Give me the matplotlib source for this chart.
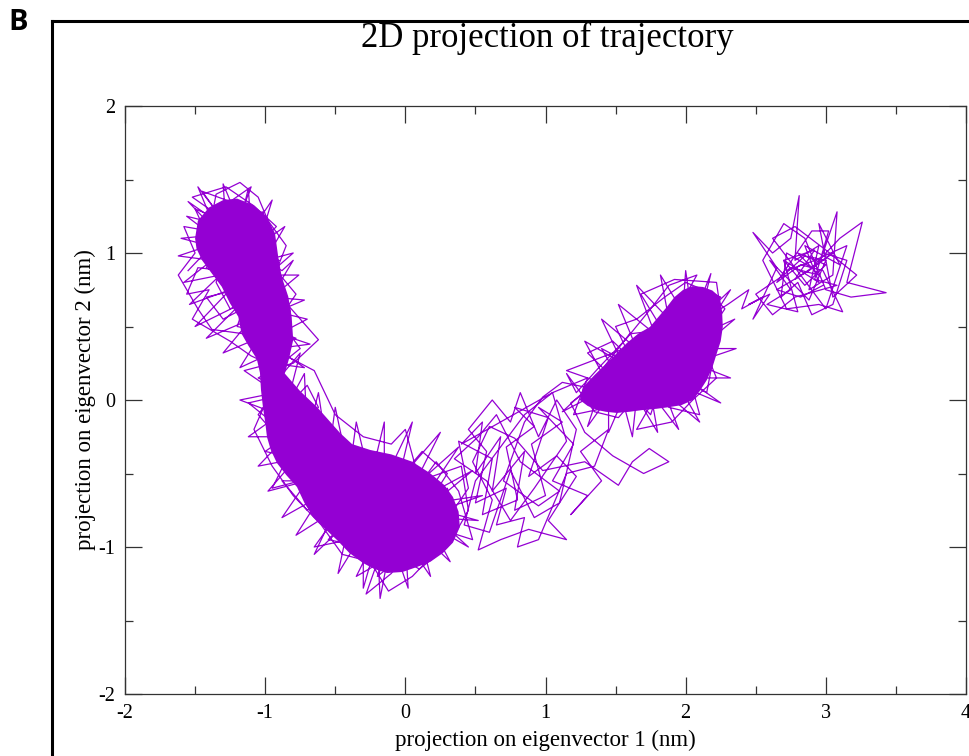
import numpy as np
import matplotlib
matplotlib.use("Agg")
import matplotlib.pyplot as plt
from matplotlib.lines import Line2D
from matplotlib.ticker import MultipleLocator

plt.rcParams["axes.unicode_minus"] = False

# trajectory projected on the first two eigenvectors (nm), split by region
traj_a = [(-1.55, 0.88), (-1.38, 1.05), (-1.50, 1.30), (-1.30, 1.22), (-1.45, 1.42), (-1.25, 1.35), (-1.10, 1.45), (-1.20, 1.20),
          (-1.02, 1.28), (-0.95, 1.10), (-1.15, 1.05), (-0.90, 0.95), (-1.05, 0.85), (-1.35, 0.95), (-1.20, 0.75), (-1.42, 0.70),
          (-1.30, 0.55), (-1.10, 0.65), (-0.88, 0.80), (-0.82, 0.60), (-1.00, 0.50), (-0.78, 0.42), (-0.95, 0.35), (-1.15, 0.45),
          (-1.38, 0.48), (-1.48, 0.62), (-1.62, 0.85), (-1.50, 1.00), (-1.58, 1.18), (-1.40, 1.15), (-1.35, 1.40), (-1.18, 1.48),
          (-1.05, 1.38), (-0.98, 1.22), (-0.85, 1.05), (-0.92, 0.88), (-0.78, 0.72), (-0.90, 0.55), (-1.05, 0.70), (-1.25, 0.62),
          (-1.35, 0.80), (-1.28, 1.00), (-1.45, 1.12), (-1.32, 1.28), (-1.15, 1.12), (-1.00, 0.98), (-1.12, 0.85), (-0.98, 0.72),
          (-1.18, 0.58), (-1.05, 0.40), (-0.85, 0.48), (-0.75, 0.35), (-0.92, 0.22), (-1.10, 0.30), (-1.25, 0.40), (-1.52, 0.55),
          (-1.40, 0.75), (-1.56, 0.72), (-1.48, 0.90), (-1.30, 0.88), (-1.22, 1.30), (-1.40, 1.30), (-1.52, 1.38), (-1.28, 1.45),
          (-1.08, 1.32), (-0.92, 1.18), (-1.10, 1.00), (-0.88, 0.88), (-0.80, 0.95), (-1.02, 0.60), (-0.82, 0.52), (-0.96, 0.45),
          (-1.20, 0.50), (-1.12, 0.72), (-1.25, 0.82), (-1.42, 0.90), (-1.30, 1.10), (-1.18, 0.95), (-1.05, 1.15), (-0.95, 0.95),
          (-1.55, 1.35), (-1.35, 1.15), (-1.48, 1.45), (-1.28, 1.20), (-1.30, 1.47), (-1.18, 1.20), (-1.12, 1.44), (-1.10, 1.15),
          (-0.95, 1.36), (-1.05, 1.05), (-0.86, 1.18), (-1.00, 0.95), (-0.80, 1.00), (-0.98, 0.85), (-0.76, 0.85), (-0.95, 0.70),
          (-0.72, 0.68), (-0.92, 0.60), (-0.70, 0.55), (-0.90, 0.45), (-0.68, 0.38), (-0.92, 0.35), (-0.72, 0.22), (-0.95, 0.25),
          (-0.85, 0.10), (-1.00, 0.30), (-1.18, 0.22), (-1.05, 0.42), (-1.30, 0.32), (-1.10, 0.55), (-1.42, 0.42), (-1.18, 0.65),
          (-1.50, 0.50), (-1.25, 0.75), (-1.54, 0.65), (-1.32, 0.85), (-1.58, 0.80), (-1.38, 0.95), (-1.62, 0.98), (-1.40, 1.05),
          (-1.60, 1.10), (-1.38, 1.12), (-1.56, 1.25), (-1.35, 1.20), (-0.62, 0.41), (-0.80, 0.25)]

traj_b = [(-0.92, 0.22), (-1.05, 0.15), (-0.80, 0.05), (-1.12, -0.02), (-0.95, -0.15), (-0.70, 0.10), (-0.62, -0.05), (-0.85, -0.25),
          (-1.00, -0.35), (-0.75, -0.40), (-0.55, -0.20), (-0.45, -0.35), (-0.68, -0.55), (-0.88, -0.55), (-0.70, -0.75), (-0.50, -0.60),
          (-0.35, -0.50), (-0.20, -0.35), (-0.40, -0.80), (-0.55, -0.95), (-0.30, -1.00), (-0.15, -0.75), (0.05, -0.45), (-0.05, -0.90),
          (-0.20, -1.20), (0.00, -1.05), (0.15, -0.80), (0.30, -0.60), (0.35, -0.85), (0.20, -1.05), (0.05, -1.20), (-0.12, -1.30),
          (-0.25, -1.10), (-0.45, -1.05), (-0.60, -0.85), (-0.80, -0.65), (-0.95, -0.45), (-1.08, -0.20), (-0.85, 0.30), (-0.65, 0.20),
          (-0.50, -0.10), (-0.30, -0.25), (-0.10, -0.30), (0.00, -0.20), (0.10, -0.55), (0.40, -0.45), (0.45, -0.75), (0.30, -1.00),
          (0.10, -1.15), (-0.08, -1.05), (-0.35, -1.20), (-0.22, -0.95), (-0.48, -0.72), (-0.62, -0.35), (-0.78, -0.15), (-0.98, 0.05),
          (-0.88, -0.40), (-0.72, -0.25), (-0.58, -0.45), (-0.38, -0.62), (-0.15, -0.55), (0.02, -0.68), (0.22, -0.42), (0.38, -0.62),
          (0.48, -0.95), (0.25, -0.88), (0.08, -0.95), (-0.10, -1.18), (-0.28, -1.32), (-0.18, -1.05), (-0.40, -0.95), (-0.65, -1.00),
          (-0.50, -0.80), (-0.75, -0.55), (-0.95, -0.60), (-0.82, -0.35), (-1.05, -0.10), (-0.90, 0.10), (-0.68, -0.08), (-0.52, -0.30),
          (-0.25, -0.42), (-0.05, -0.52), (0.18, -0.68), (0.30, -0.50), (0.12, -0.35), (-0.12, -0.62), (-0.32, -0.78), (-0.20, -0.88),
          (-1.10, 0.38), (-0.95, 0.25), (-1.15, 0.20), (-0.92, 0.05), (-1.18, 0.00), (-0.90, -0.10), (-1.12, -0.25), (-0.85, -0.25),
          (-1.05, -0.45), (-0.78, -0.40), (-0.98, -0.62), (-0.70, -0.55), (-0.88, -0.80), (-0.60, -0.65), (-0.78, -0.92), (-0.50, -0.75),
          (-0.65, -1.05), (-0.40, -0.82), (-0.48, -1.18), (-0.30, -0.90), (-0.30, -1.28), (-0.20, -0.95), (-0.18, -1.35), (-0.10, -0.95),
          (0.02, -1.28), (0.00, -0.95), (0.18, -1.20), (0.10, -0.90), (0.32, -1.10), (0.18, -0.85), (0.45, -1.00), (0.22, -0.80),
          (0.52, -0.82), (0.25, -0.75), (0.55, -0.65), (0.20, -0.70), (0.48, -0.48), (0.15, -0.65), (0.38, -0.32), (0.05, -0.60),
          (0.25, -0.22), (-0.05, -0.55), (0.05, -0.15), (-0.15, -0.55), (-0.15, -0.15), (-0.25, -0.55), (-0.35, -0.15), (-0.40, -0.50),
          (-0.50, -0.05), (-0.55, -0.40), (-0.62, 0.05), (-0.70, -0.25), (-0.72, 0.18), (-0.85, -0.05), (-0.75, 0.32), (-0.90, 0.15),
          (-0.60, -0.20), (-0.40, -0.45), (-0.10, -0.45), (0.20, -0.55), (0.20, -0.95)]

traj_c = [(0.20, -0.95), (0.45, -0.60), (0.38, -0.28), (0.62, -0.40), (0.55, -0.78), (0.80, -0.68), (0.72, -0.32), (0.92, -0.18),
          (0.78, -0.05), (1.02, -0.12), (0.88, -0.52), (1.08, -0.38), (1.22, -0.52), (1.02, -0.82), (1.15, -0.95), (0.88, -0.88),
          (0.68, -0.95), (0.52, -1.02), (0.62, -0.68), (0.48, -0.42), (0.60, -0.18), (0.78, -0.26), (0.98, -0.48), (1.28, -0.42),
          (1.52, -0.58), (1.62, -0.42), (1.74, -0.33), (1.88, -0.42), (1.70, -0.50), (1.48, -0.38), (1.28, -0.22), (1.18, -0.02),
          (1.32, 0.08), (1.12, 0.12), (0.98, 0.02), (0.85, -0.15), (0.70, -0.55), (0.95, -0.72), (1.10, -0.62), (0.82, -0.42),
          (0.65, -0.10), (0.52, -0.25), (0.35, -0.40), (0.58, -0.55), (0.75, -0.82), (0.92, -0.60), (1.15, -0.28), (1.05, 0.05),
          (0.40, -0.30), (0.55, -0.15), (0.50, -0.50), (0.68, -0.25), (0.62, -0.62), (0.85, -0.35), (0.78, -0.75), (1.00, -0.65),
          (0.90, -0.30), (1.12, -0.15), (0.95, -0.05), (1.20, -0.30), (1.05, -0.55), (1.30, -0.65), (1.18, -0.78), (1.40, -0.55),
          (1.25, -0.35), (1.45, -0.20), (1.35, -0.45), (1.15, -0.50), (0.95, -0.95), (0.80, -1.00), (0.85, -0.80), (0.65, -0.85),
          (0.72, -0.60), (0.50, -0.70), (0.58, -0.35), (0.45, -0.20), (0.62, 0.00), (0.75, -0.15), (0.82, 0.05), (0.95, -0.25),
          (1.08, 0.00), (1.22, -0.20), (1.10, -0.70), (0.92, -0.80), (0.75, -0.48), (0.60, -0.90), (0.42, -0.85), (0.50, -0.55),
          (0.85, -0.10), (1.05, 0.05)]

traj_d = [(1.05, 0.05), (1.30, 0.15), (1.20, -0.10), (1.45, -0.05), (1.60, 0.25), (1.40, 0.35), (1.55, 0.10), (1.75, -0.10),
          (1.85, 0.20), (1.70, 0.45), (1.90, 0.60), (2.05, 0.40), (1.95, 0.15), (2.15, 0.05), (2.20, 0.30), (2.10, 0.55),
          (2.25, 0.70), (2.00, 0.80), (1.85, 0.70), (1.65, 0.55), (1.50, 0.50), (1.60, 0.30), (1.80, 0.05), (1.65, -0.20),
          (1.90, -0.15), (2.05, 0.00), (2.22, 0.15), (2.12, 0.38), (1.98, 0.68), (2.08, 0.85), (1.88, 0.78), (1.75, 0.62),
          (1.58, 0.42), (1.38, 0.22), (1.22, 0.05), (1.15, 0.18), (1.35, -0.08), (1.52, -0.12), (1.72, 0.10), (1.92, 0.35),
          (2.18, 0.48), (2.28, 0.62), (2.15, 0.75), (1.95, 0.50), (1.78, 0.30), (1.62, 0.08), (1.45, 0.18), (1.30, 0.32),
          (1.48, 0.40), (1.70, 0.20), (1.88, -0.05), (2.10, -0.10), (2.00, 0.25), (2.20, 0.42), (2.05, 0.65), (1.82, 0.50),
          (1.68, 0.72), (1.92, 0.82), (2.22, 0.80), (2.25, 0.60),
          (1.15, 0.20), (1.45, 0.10), (1.28, 0.40), (1.55, 0.25), (1.40, 0.55), (1.65, 0.35), (1.52, 0.65), (1.78, 0.45),
          (1.65, 0.78), (1.88, 0.55), (1.82, 0.85), (1.98, 0.60), (2.00, 0.88), (2.05, 0.55), (2.18, 0.86), (2.10, 0.55),
          (2.32, 0.75), (2.12, 0.45), (2.35, 0.55), (2.10, 0.35), (2.36, 0.35), (2.05, 0.25), (2.32, 0.15), (2.00, 0.15),
          (2.25, -0.02), (1.95, 0.10), (2.10, -0.15), (1.85, 0.05), (1.95, -0.20), (1.75, 0.05), (1.80, -0.22), (1.65, 0.02),
          (1.62, -0.25), (1.55, 0.00), (1.45, -0.22), (1.45, 0.02), (1.30, -0.18), (1.38, 0.05), (1.12, -0.08), (1.30, 0.08),
          (1.60, 0.45), (2.05, 0.50), (2.30, 0.65), (2.45, 0.75), (2.40, 0.62), (2.55, 0.70), (2.45, 0.65), (2.60, 0.72)]

traj_e = [(2.60, 0.72), (2.48, 0.55), (2.65, 0.90), (2.48, 1.14), (2.62, 1.00), (2.75, 1.10), (2.81, 1.39), (2.78, 0.95),
          (2.95, 1.05), (2.88, 0.75), (3.05, 0.85), (3.08, 1.28), (2.98, 1.00), (3.15, 0.95), (3.05, 0.65), (2.90, 0.58),
          (2.80, 0.80), (2.68, 0.70), (2.72, 1.00), (2.90, 0.90), (3.10, 1.10), (3.26, 1.21), (3.15, 0.80), (3.43, 0.73),
          (3.18, 0.70), (3.00, 0.75), (2.85, 1.10), (2.70, 1.20), (2.55, 0.95), (2.72, 0.62), (2.95, 0.65), (3.12, 0.60),
          (2.98, 0.88), (2.82, 0.92), (2.65, 0.80), (2.90, 1.15), (3.02, 1.15), (2.92, 0.82), (3.08, 0.78), (2.78, 0.70),
          (2.62, 0.58), (2.50, 0.72), (2.70, 0.85), (2.85, 0.98), (3.00, 0.95), (2.88, 0.68), (2.60, 0.95), (2.75, 0.75),
          (2.58, 0.65), (2.80, 0.60), (2.70, 0.95), (2.95, 0.80), (2.85, 1.05), (3.10, 0.92), (2.95, 1.20), (3.05, 0.70),
          (3.22, 0.85), (3.00, 1.02), (2.78, 1.18), (2.62, 1.10), (2.82, 0.85), (3.00, 0.62), (3.15, 1.05), (2.92, 0.95),
          (2.72, 0.88), (2.75, 0.90), (2.95, 0.85), (2.80, 1.00), (3.00, 0.92), (2.85, 0.78), (2.70, 0.95), (2.92, 1.02),
          (2.78, 0.82), (3.05, 1.00), (2.88, 0.88), (2.65, 0.75), (2.82, 0.70), (2.98, 0.78)]

# regions where the trajectory lines overlap into solid colour
core_left = [(-1.50, 1.10), (-1.48, 1.22), (-1.40, 1.31), (-1.30, 1.36), (-1.20, 1.37), (-1.085, 1.327), (-0.989, 1.247),
             (-0.930, 1.134), (-0.907, 0.975), (-0.882, 0.839), (-0.835, 0.703), (-0.811, 0.567), (-0.800, 0.408),
             (-0.830, 0.280), (-0.860, 0.180), (-0.750, 0.060), (-0.630, -0.048), (-0.466, -0.224), (-0.380, -0.300),
             (-0.250, -0.340), (-0.100, -0.370), (0.050, -0.420), (0.175, -0.497), (0.280, -0.580), (0.340, -0.660),
             (0.380, -0.760), (0.389, -0.864), (0.340, -0.970), (0.268, -1.041), (0.180, -1.100), (0.083, -1.136),
             (-0.020, -1.170), (-0.131, -1.177), (-0.220, -1.150), (-0.302, -1.109), (-0.400, -1.040), (-0.488, -0.952),
             (-0.580, -0.870), (-0.659, -0.796), (-0.720, -0.700), (-0.773, -0.592), (-0.850, -0.510), (-0.916, -0.429),
             (-0.960, -0.340), (-0.987, -0.252), (-1.000, -0.150), (-1.016, -0.048), (-1.030, 0.070), (-1.037, 0.184),
             (-1.060, 0.280), (-1.120, 0.370), (-1.168, 0.450), (-1.192, 0.567), (-1.251, 0.658), (-1.310, 0.771),
             (-1.380, 0.860), (-1.450, 0.950), (-1.490, 1.030)]
core_right = [(1.267, 0.088), (1.350, 0.170), (1.438, 0.252), (1.510, 0.320), (1.581, 0.388), (1.660, 0.450), (1.745, 0.497),
              (1.810, 0.570), (1.866, 0.633), (1.920, 0.700), (1.980, 0.748), (2.050, 0.775), (2.123, 0.769), (2.190, 0.745),
              (2.244, 0.701), (2.260, 0.600), (2.265, 0.497), (2.250, 0.400), (2.223, 0.320), (2.190, 0.220), (2.151, 0.136),
              (2.100, 0.060), (2.051, 0.000), (1.970, -0.035), (1.887, -0.048), (1.790, -0.060), (1.695, -0.068),
              (1.600, -0.080), (1.509, -0.088), (1.430, -0.080), (1.367, -0.068), (1.300, -0.040), (1.245, 0.000)]

purple = "#9400d3"
serif = "Liberation Serif"

fig = plt.figure(figsize=(9.69, 7.56), dpi=100)
ax = fig.add_axes([125 / 969, 62 / 756, 841 / 969, 588 / 756])

for core in (core_left, core_right):
    c = np.array(core)
    ax.fill(c[:, 0], c[:, 1], color=purple, lw=0)

traj = np.array(traj_a + traj_b + traj_c + traj_d + traj_e)
ax.plot(traj[:, 0], traj[:, 1], color=purple, lw=0.9)

ax.set_xlim(-2, 4)
ax.set_ylim(-2, 2)
ax.xaxis.set_major_locator(MultipleLocator(1))
ax.xaxis.set_minor_locator(MultipleLocator(0.5))
ax.yaxis.set_major_locator(MultipleLocator(1))
ax.yaxis.set_minor_locator(MultipleLocator(0.5))
ax.tick_params(which="both", direction="in", top=True, right=True, width=0.9, color="#333333")
ax.tick_params(which="major", length=12, labelsize=14.5, pad=7)
ax.tick_params(which="minor", length=6)
for lab in ax.get_xticklabels() + ax.get_yticklabels():
    lab.set_family(serif)
for s in ax.spines.values():
    s.set_linewidth(0.9)
    s.set_color("#333333")

ax.set_xlabel("projection on eigenvector 1 (nm)", family=serif, fontsize=16.5, labelpad=5)
ax.set_ylabel("projection on eigenvector 2 (nm)", family=serif, fontsize=16.5, labelpad=2)

fig.text(547 / 969, 1 - 38 / 756, "2D projection of trajectory", family=serif, fontsize=25,
         ha="center", va="center")
fig.text(18 / 969, 1 - 23 / 756, "B", family="Open Sans", fontweight="bold", fontsize=21,
         ha="center", va="center")

# panel frame
fx = 52 / 969
fy = 1 - 21 / 756
fig.add_artist(Line2D([fx, 1], [fy, fy], transform=fig.transFigure, color="black", lw=2.2))
fig.add_artist(Line2D([fx, fx], [0, fy], transform=fig.transFigure, color="black", lw=2.2))

fig.savefig("out.png", dpi=100)
